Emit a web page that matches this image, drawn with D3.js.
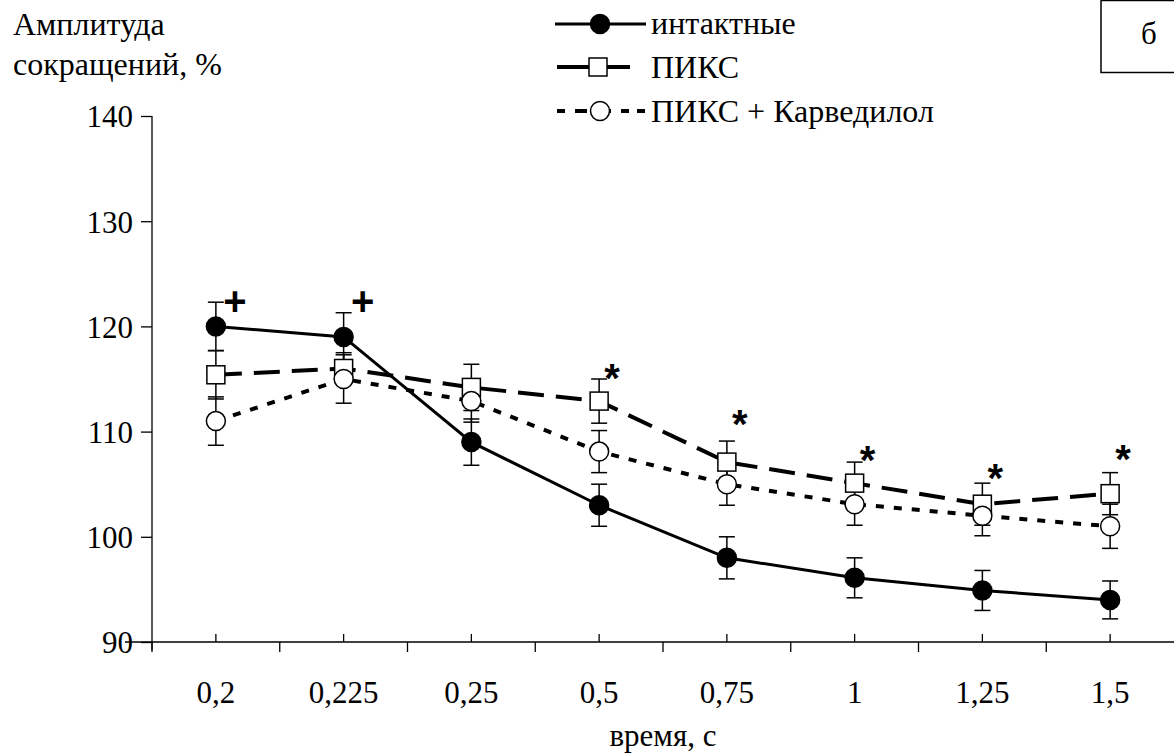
<!DOCTYPE html>
<html>
<head>
<meta charset="utf-8">
</head>
<body style="margin:0">
<script src="https://cdn.jsdelivr.net/npm/d3@7"></script>
<script>
var width = 1174, height = 753;
var fontName = "'Liberation Serif'";

// data
var categories = ["0,2", "0,225", "0,25", "0,5", "0,75", "1", "1,25", "1,5"];
var intact     = [120, 119, 109, 103, 98, 96.1, 94.9, 94];
var intactErr  = [2.3, 2.3, 2.2, 2.0, 2.0, 1.9, 1.9, 1.8];
var piks       = [115.4, 116, 114.2, 112.9, 107.1, 105.1, 103.1, 104.1];
var piksErr    = [2.3, 1.5, 2.2, 2.1, 2.0, 2.0, 2.0, 2.0];
var karv       = [111, 115, 112.9, 108.1, 105, 103.1, 102, 101];
var karvErr    = [2.3, 2.3, 2.0, 2.0, 2.0, 2.0, 1.9, 2.1];
var yTicks     = [90, 100, 110, 120, 130, 140];
var plusMarks  = [{i: 0, v: 122.3}, {i: 1, v: 122.3}];
var starMarks  = [{i: 3, v: 115.9}, {i: 4, v: 111.5}, {i: 5, v: 108.1}, {i: 6, v: 106.4}, {i: 7, v: 108.2}];
var legendNames = ["интактные", "ПИКС", "ПИКС + Карведилол"];

var series = [
  {name: legendNames[0], values: intact, err: intactErr, dash: null, marker: "fill"},
  {name: legendNames[1], values: piks, err: piksErr, dash: "26,12", marker: "square"},
  {name: legendNames[2], values: karv, err: karvErr, dash: "8,10", marker: "circle"}
];

var svg = d3.select("body").append("svg")
    .attr("width", width)
    .attr("height", height)
    .attr("font-family", "Liberation Serif");

// every text label goes through here
function label(sel, size){
  return sel.style("font-family", fontName).style("font-size", size + "px")
      .attr("fill", "#000");
}

var x = d3.scaleBand().domain(categories).range([152, 1174]);
var y = d3.scaleLinear().domain([90, 140]).range([642, 116]);
var cx = function(i){ return x(categories[i]) + x.bandwidth() / 2; };

// y axis
var yAxis = svg.append("g")
    .attr("transform", "translate(152,0)")
    .call(d3.axisLeft(y).tickValues(yTicks).tickSize(11).tickPadding(8).tickFormat(d3.format("d")));
yAxis.attr("font-family", "Liberation Serif").attr("font-size", 31);
label(yAxis.selectAll("text"), 31).attr("dy", "0.35em");
yAxis.select(".domain").attr("d", "M0," + y(140) + "V" + (y(90) + 8));
yAxis.selectAll("line, path").attr("stroke", "#000").attr("stroke-width", 1.3);

// x axis: long ticks at band edges (down), short ticks at centres (up)
var xAxis = svg.append("g").attr("transform", "translate(0," + y(90) + ")");
xAxis.append("line").attr("x1", 125).attr("x2", 1174).attr("stroke", "#000").attr("stroke-width", 1.3);
xAxis.selectAll(".edge").data(categories).enter().append("line")
    .attr("x1", function(d){ return x(d); }).attr("x2", function(d){ return x(d); })
    .attr("y1", 0).attr("y2", 10).attr("stroke", "#000").attr("stroke-width", 1.3);
xAxis.selectAll(".mid").data(categories).enter().append("line")
    .attr("x1", function(d, i){ return cx(i); }).attr("x2", function(d, i){ return cx(i); })
    .attr("y1", 0).attr("y2", -8).attr("stroke", "#000").attr("stroke-width", 1.3);
label(xAxis.selectAll(".lbl").data(categories).enter().append("text"), 31)
    .attr("x", function(d, i){ return cx(i); })
    .attr("y", 61)
    .attr("text-anchor", "middle")
    .text(function(d){ return d; });

label(svg.append("text"), 31).attr("x", 663).attr("y", 746).attr("text-anchor", "middle").text("время, с");

label(svg.append("text"), 32).attr("x", 13).attr("y", 35).text("Амплитуда");
label(svg.append("text"), 32).attr("x", 13).attr("y", 75).text("сокращений, %");

var line = d3.line().x(function(d, i){ return cx(i); }).y(function(d){ return y(d); });

// error bars
series.forEach(function(s){
  var g = svg.append("g");
  s.values.forEach(function(v, i){
    var top = y(v + s.err[i]), bot = y(v - s.err[i]), xc = cx(i);
    g.append("line").attr("x1", xc).attr("x2", xc).attr("y1", top).attr("y2", bot)
        .attr("stroke", "#000").attr("stroke-width", 1.5);
    [top, bot].forEach(function(yy){
      g.append("line").attr("x1", xc - 8).attr("x2", xc + 8).attr("y1", yy).attr("y2", yy)
          .attr("stroke", "#000").attr("stroke-width", 1.5);
    });
  });
});

// lines
series.forEach(function(s){
  svg.append("path").datum(s.values)
      .attr("d", line)
      .attr("fill", "none")
      .attr("stroke", "#000")
      .attr("stroke-width", s.dash ? 4 : 3)
      .attr("stroke-dasharray", s.dash);
});

function drawMarker(g, type, px, py){
  if (type == "square") {
    g.append("rect").attr("x", px - 9).attr("y", py - 9).attr("width", 18).attr("height", 18)
        .attr("fill", "#fff").attr("stroke", "#000").attr("stroke-width", 1.5);
  } else {
    g.append("circle").attr("cx", px).attr("cy", py).attr("r", 9.5)
        .attr("fill", type == "fill" ? "#000" : "#fff").attr("stroke", "#000").attr("stroke-width", 1.5);
  }
}

// markers
series.forEach(function(s){
  var g = svg.append("g");
  s.values.forEach(function(v, i){ drawMarker(g, s.marker, cx(i), y(v)); });
});

// significance marks (centred on their value)
svg.selectAll(".plus").data(plusMarks).enter().append("text")
    .attr("x", function(d){ return cx(d.i) + 19; })
    .attr("y", function(d){ return y(d.v); })
    .attr("text-anchor", "middle").attr("dy", "0.33em")
    .style("font-size", "40px").style("font-weight", "bold")
    .style("font-family", "'Liberation Sans'")
    .text("+");
svg.selectAll(".star").data(starMarks).enter().append("text")
    .attr("x", function(d){ return cx(d.i) + 13; })
    .attr("y", function(d){ return y(d.v); })
    .attr("text-anchor", "middle").attr("dy", "0.56em")
    .style("font-size", "40px").style("font-weight", "bold")
    .style("font-family", "'Liberation Sans'")
    .text("*");

// legend
var legendY = [24, 67, 111];
var lg = svg.append("g");
series.forEach(function(s, k){
  var ly = legendY[k];
  if (k == 0) {
    lg.append("line").attr("x1", 555).attr("x2", 646).attr("y1", ly).attr("y2", ly)
        .attr("stroke", "#000").attr("stroke-width", 3);
  } else if (k == 1) {
    lg.append("line").attr("x1", 557).attr("x2", 630).attr("y1", ly).attr("y2", ly)
        .attr("stroke", "#000").attr("stroke-width", 4);
  } else {
    lg.append("line").attr("x1", 557).attr("x2", 645).attr("y1", ly).attr("y2", ly)
        .attr("stroke", "#000").attr("stroke-width", 4).attr("stroke-dasharray", "8,10,12,14,10,10,8");
  }
  drawMarker(lg, s.marker, k == 1 ? 598 : 600, ly);
  label(lg.append("text"), 32).attr("x", 651).attr("y", ly + (k == 0 ? 10 : 11)).text(s.name);
});

// panel label
svg.append("rect").attr("x", 1101).attr("y", 0.5).attr("width", 80).attr("height", 72)
    .attr("fill", "none").attr("stroke", "#000").attr("stroke-width", 1.5);
label(svg.append("text"), 31).attr("x", 1149).attr("y", 44).attr("text-anchor", "middle").text("б");
</script>
</body>
</html>
